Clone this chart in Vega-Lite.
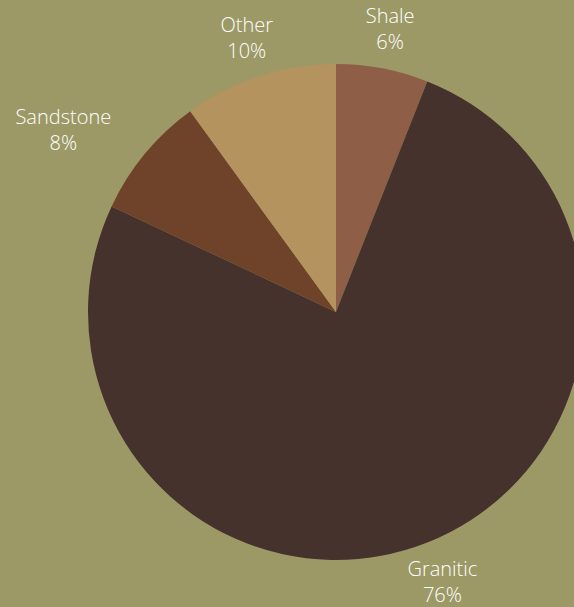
{
  "$schema": "https://vega.github.io/schema/vega-lite/v6.json",
  "width": 476,
  "height": 590,
  "autosize": {"type": "none"},
  "padding": {"left": 98, "top": 17, "right": 0, "bottom": 0},
  "background": "#9c9966",
  "config": {"view": {"stroke": null}},
  "data": {
    "values": [
      {"category": "Shale", "value": 6, "rank": 1},
      {"category": "Granitic", "value": 76, "rank": 2},
      {"category": "Sandstone", "value": 8, "rank": 3},
      {"category": "Other", "value": 10, "rank": 4}
    ]
  },
  "transform": [
    {"stack": "value", "groupby": [], "sort": [{"field": "rank", "order": "ascending"}], "as": ["t0", "t1"]},
    {"calculate": "(datum.t0 + datum.t1) / 2", "as": "tmid"},
    {"calculate": "datum.category + '\\n' + datum.value + '%'", "as": "label"}
  ],
  "layer": [
    {
      "mark": {"type": "arc", "outerRadius": 248},
      "encoding": {
        "theta": {"field": "t0", "type": "quantitative", "scale": {"domain": [0, 100]}},
        "theta2": {"field": "t1"},
        "color": {
          "field": "category",
          "type": "nominal",
          "scale": {
            "domain": ["Shale", "Granitic", "Sandstone", "Other"],
            "range": ["#8f5e47", "#45322d", "#6f422a", "#b4935e"]
          },
          "legend": null
        }
      }
    },
    {
      "transform": [{"filter": "datum.category !== 'Sandstone'"}],
      "mark": {"type": "text", "radius": 289, "dy": -11, "font": "Open Sans", "fontSize": 20, "fontWeight": 300, "lineHeight": 26, "lineBreak": "\n", "color": "white", "baseline": "middle", "align": "center"},
      "encoding": {
        "theta": {"field": "tmid", "type": "quantitative", "scale": {"domain": [0, 100]}},
        "text": {"field": "label"}
      }
    },
    {
      "transform": [{"filter": "datum.category === 'Sandstone'"}],
      "mark": {"type": "text", "radius": 289, "dx": -50, "dy": -10, "font": "Open Sans", "fontSize": 20, "fontWeight": 300, "lineHeight": 26, "lineBreak": "\n", "color": "white", "baseline": "middle", "align": "center"},
      "encoding": {
        "theta": {"field": "tmid", "type": "quantitative", "scale": {"domain": [0, 100]}},
        "text": {"field": "label"}
      }
    }
  ]
}
